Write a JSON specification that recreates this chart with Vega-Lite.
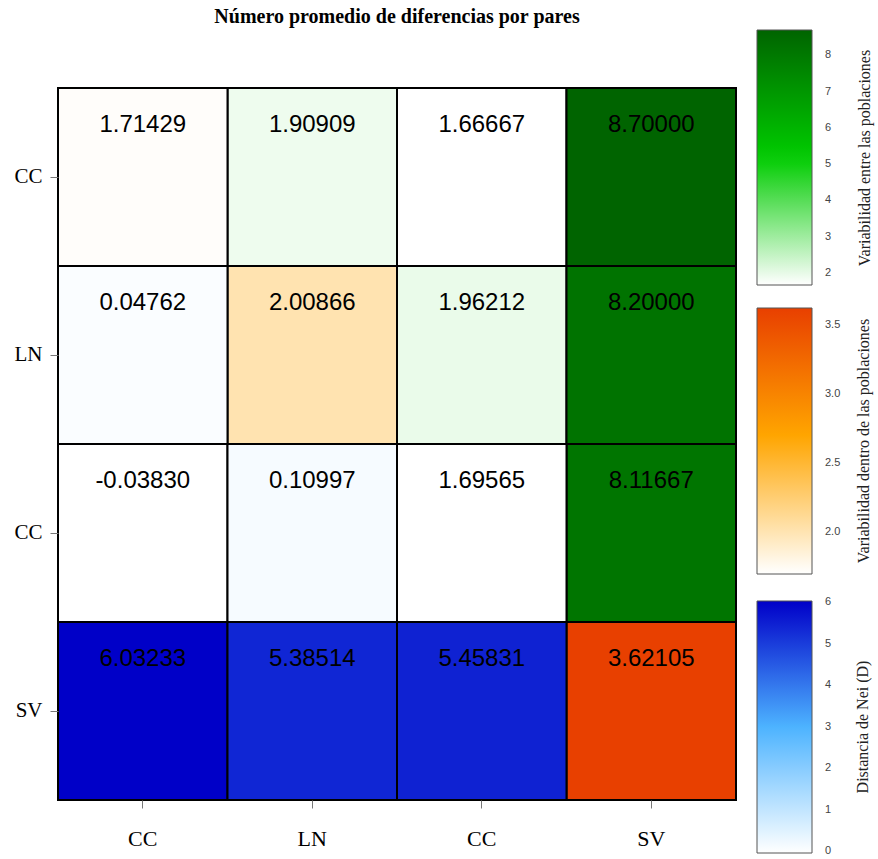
{
  "$schema": "https://vega.github.io/schema/vega-lite/v6.json",
  "width": 678,
  "height": 712,
  "autosize": "none",
  "padding": {"left": 58, "top": 88, "right": 142, "bottom": 59},
  "background": "white",
  "title": {
    "text": "Número promedio de diferencias por pares",
    "font": "Liberation Serif",
    "fontSize": 20,
    "fontWeight": "bold",
    "color": "black",
    "anchor": "middle",
    "frame": "group",
    "baseline": "alphabetic",
    "offset": 6,
    "dy": 19
  },
  "config": {
    "view": {"stroke": null},
    "locale": {"number": {"decimal": ".", "thousands": ",", "grouping": [3], "currency": ["$", ""], "minus": "-"}},
    "legend": {
      "orient": "none",
      "direction": "vertical",
      "padding": 0,
      "gradientThickness": 55,
      "gradientStrokeColor": "#555555",
      "gradientStrokeWidth": 1,
      "labelFont": "Liberation Sans",
      "labelFontSize": 11,
      "labelColor": "#444444",
      "labelOffset": 13,
      "labelOverlap": false,
      "titleOrient": "right",
      "titleFont": "Liberation Serif",
      "titleFontSize": 16,
      "titleFontWeight": "normal",
      "titleColor": "#222222",
      "titleAlign": "center",
      "titleBaseline": "middle",
      "titleAnchor": "middle",
      "titleLimit": 400
    }
  },
  "data": {
    "values": [
      {"fila": "r1", "col": "c1", "valor": 1.71429, "tipo": "dentro"},
      {"fila": "r1", "col": "c2", "valor": 1.90909, "tipo": "entre"},
      {"fila": "r1", "col": "c3", "valor": 1.66667, "tipo": "entre"},
      {"fila": "r1", "col": "c4", "valor": 8.7, "tipo": "entre"},
      {"fila": "r2", "col": "c1", "valor": 0.04762, "tipo": "nei"},
      {"fila": "r2", "col": "c2", "valor": 2.00866, "tipo": "dentro"},
      {"fila": "r2", "col": "c3", "valor": 1.96212, "tipo": "entre"},
      {"fila": "r2", "col": "c4", "valor": 8.2, "tipo": "entre"},
      {"fila": "r3", "col": "c1", "valor": -0.0383, "tipo": "nei"},
      {"fila": "r3", "col": "c2", "valor": 0.10997, "tipo": "nei"},
      {"fila": "r3", "col": "c3", "valor": 1.69565, "tipo": "dentro"},
      {"fila": "r3", "col": "c4", "valor": 8.11667, "tipo": "entre"},
      {"fila": "r4", "col": "c1", "valor": 6.03233, "tipo": "nei"},
      {"fila": "r4", "col": "c2", "valor": 5.38514, "tipo": "nei"},
      {"fila": "r4", "col": "c3", "valor": 5.45831, "tipo": "nei"},
      {"fila": "r4", "col": "c4", "valor": 3.62105, "tipo": "dentro"}
    ]
  },
  "encoding": {
    "x": {
      "field": "col", "type": "nominal", "sort": ["c1", "c2", "c3", "c4"],
      "scale": {"paddingInner": 0, "paddingOuter": 0},
      "axis": {
        "title": null, "orient": "bottom", "domain": false,
        "labelAngle": 0,
        "labelExpr": "{'c1':'CC','c2':'LN','c3':'CC','c4':'SV'}[datum.value]",
        "labelFont": "Liberation Serif", "labelFontSize": 22, "labelColor": "black",
        "tickColor": "#777777", "tickSize": 8, "labelPadding": 20
      }
    },
    "y": {
      "field": "fila", "type": "nominal", "sort": ["r1", "r2", "r3", "r4"],
      "scale": {"paddingInner": 0, "paddingOuter": 0},
      "axis": {
        "title": null, "orient": "left", "domain": false,
        "labelExpr": "{'r1':'CC','r2':'LN','r3':'CC','r4':'SV'}[datum.value]",
        "labelFont": "Liberation Serif", "labelFontSize": 21, "labelColor": "black",
        "tickColor": "#777777", "tickSize": 8, "labelPadding": 8
      }
    }
  },
  "layer": [
    {
      "transform": [{"filter": "datum.tipo === 'entre'"}],
      "mark": {"type": "rect", "stroke": "black", "strokeWidth": 2},
      "encoding": {
        "color": {
          "field": "valor", "type": "quantitative",
          "scale": {"domain": [1.66667, 5.2, 8.7], "range": ["#ffffff", "#00cc00", "#006400"], "interpolate": "rgb"},
          "legend": {
            "title": "Variabilidad entre las poblaciones",
            "legendX": 699, "legendY": -58, "gradientLength": 255, "labelOffset": 13, "titlePadding": 34,
            "values": [2, 3, 4, 5, 6, 7, 8],
            "encode": {"title": {"update": {"angle": {"value": -90}}}}
          }
        }
      }
    },
    {
      "transform": [{"filter": "datum.tipo === 'dentro'"}],
      "mark": {"type": "rect", "stroke": "black", "strokeWidth": 2},
      "encoding": {
        "color": {
          "field": "valor", "type": "quantitative",
          "scale": {"domain": [1.69565, 2.7, 3.62105], "range": ["#ffffff", "#ffa500", "#e84000"], "interpolate": "rgb"},
          "legend": {
            "title": "Variabilidad dentro de las poblaciones",
            "legendX": 699, "legendY": 220, "gradientLength": 266, "labelOffset": 13, "titlePadding": 24,
            "values": [2.0, 2.5, 3.0, 3.5], "format": ".1f",
            "encode": {"title": {"update": {"angle": {"value": -90}}}}
          }
        }
      }
    },
    {
      "transform": [{"filter": "datum.tipo === 'nei'"}],
      "mark": {"type": "rect", "stroke": "black", "strokeWidth": 2},
      "encoding": {
        "color": {
          "field": "valor", "type": "quantitative",
          "scale": {"domain": [-0.0383, 3, 6.03233], "range": ["#ffffff", "#4db3ff", "#0000c8"], "interpolate": "rgb"},
          "legend": {
            "title": "Distancia de Nei (D)",
            "legendX": 699, "legendY": 513, "gradientLength": 252, "labelOffset": 13, "titlePadding": 32,
            "values": [0, 1, 2, 3, 4, 5, 6],
            "encode": {"title": {"update": {"angle": {"value": -90}}}}
          }
        }
      }
    },
    {
      "mark": {"type": "text", "font": "Liberation Sans", "fontSize": 24, "color": "black", "baseline": "middle", "dy": -52},
      "encoding": {
        "text": {"field": "valor", "type": "quantitative", "format": ".5f"}
      }
    }
  ],
  "resolve": {"scale": {"color": "independent"}, "legend": {"color": "independent"}}
}
